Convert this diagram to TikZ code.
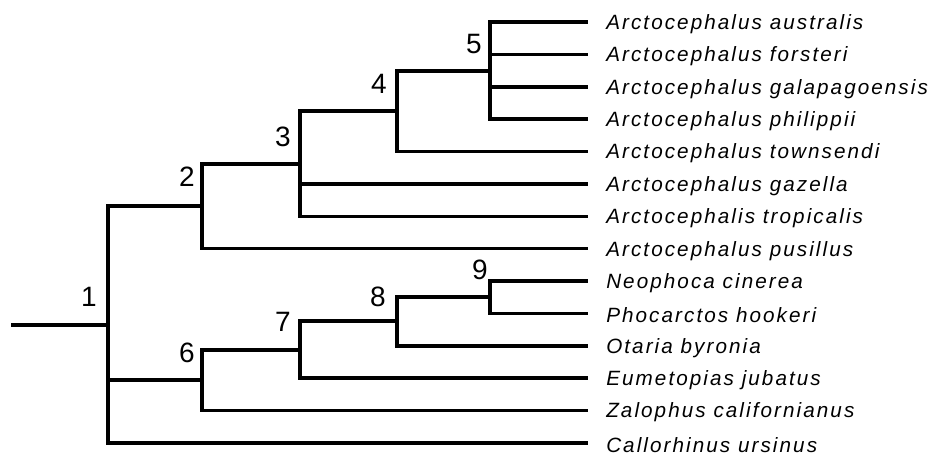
\documentclass[tikz,border=0pt]{standalone}
\usepackage{fontspec}
\setmainfont{Liberation Sans}
\usetikzlibrary{positioning}
\tikzset{
  branch/.style = {line width=2.6pt},
  taxon/.style = {font=\itshape\fontsize{15.5}{17}\selectfont\addfontfeature{LetterSpace=10},
                  inner sep=0pt, anchor=west},
  clade/.style = {font=\fontsize{21}{24}\selectfont, inner sep=0pt}
}

\begin{document}
\begin{tikzpicture}[x=0.75pt, y=-0.75pt]
\useasboundingbox (0,0) rectangle (938,455);
\coordinate (root) at (11,325);
\coordinate (n1) at (108,325);
\coordinate (n2) at (202,206);
\coordinate (n3) at (300,164);
\coordinate (n4) at (397,111);
\coordinate (n5) at (490,71);
\coordinate (n6) at (202,380);
\coordinate (n7) at (300,350);
\coordinate (n8) at (397,321);
\coordinate (n9) at (490,297);
\foreach \i/\sp/\up [evaluate=\i as \y using 22+32.38*(\i-1)] in {
  1/Arctocephalus australis/n5,
  2/Arctocephalus forsteri/n5,
  3/Arctocephalus galapagoensis/n5,
  4/Arctocephalus philippii/n5,
  5/Arctocephalus townsendi/n4,
  6/Arctocephalus gazella/n3,
  7/Arctocephalis tropicalis/n3,
  8/Arctocephalus pusillus/n2,
  9/Neophoca cinerea/n9,
  10/Phocarctos hookeri/n9,
  11/Otaria byronia/n8,
  12/Eumetopias jubatus/n7,
  13/Zalophus californianus/n6,
  14/Callorhinus ursinus/n1} {
  \coordinate (t\i) at (588,\y);
  \node[taxon, right=13.5pt of t\i, yshift=-1.5pt] (s\i) {\sp};
  \draw[branch] (\up) |- (t\i);
}
\draw[branch] (root) -- (n1);
\draw[branch] (n1) |- (n2);
\draw[branch] (n1) |- (n6);
\draw[branch] (n2) |- (n3);
\draw[branch] (n3) |- (n4);
\draw[branch] (n4) |- (n5);
\draw[branch] (n6) |- (n7);
\draw[branch] (n7) |- (n8);
\draw[branch] (n8) |- (n9);
% clade numbers
\node[clade] (k1) at (89,297) {1};
\node[clade] (k2) at (187,177) {2};
\node[clade] (k3) at (283,137) {3};
\node[clade] (k4) at (379,84) {4};
\node[clade] (k5) at (474,44) {5};
\node[clade] (k6) at (187,353) {6};
\node[clade] (k7) at (283,322) {7};
\node[clade] (k8) at (378,297) {8};
\node[clade] (k9) at (480,270) {9};
\end{tikzpicture}
\end{document}
